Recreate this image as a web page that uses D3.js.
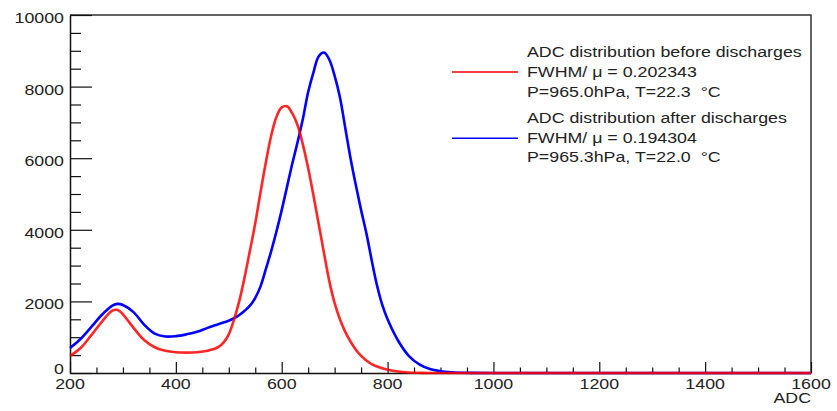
<!DOCTYPE html>
<html><head><meta charset="utf-8">
<script src="https://cdn.jsdelivr.net/npm/d3@7"></script>
<style>body{margin:0;background:#fff;} svg{display:block;} text{white-space:pre;}</style>
</head><body><svg id="c" width="837" height="411"></svg>
<script>
// ---- data ----
const adc = [200,220,240,260,280,290,300,320,340,360,380,400,420,440,460,480,490,500,510,520,530,540,550,560,570,580,590,600,610,620,630,640,650,660,670,680,690,700,710,720,730,740,750,760,770,780,790,800,820,840,860,880,900,920,940,960,1000,1100,1200,1300,1400,1500,1600];
const beforeCounts = [475,700,1050,1430,1740,1760,1640,1260,920,720,620,580,570,580,620,720,850,1080,1500,2020,2680,3420,4180,5050,5880,6620,7150,7420,7450,7250,6920,6380,5720,4960,4150,3340,2560,1950,1500,1150,880,650,480,350,250,180,130,90,40,15,5,0,0,0,0,0,0,0,0,0,0,0,0];
const afterCounts  = [700,950,1280,1620,1880,1930,1900,1700,1350,1100,1020,1030,1080,1150,1260,1360,1410,1460,1530,1620,1740,1880,2100,2420,2900,3400,3950,4550,5200,5850,6450,7100,7850,8400,8850,8950,8750,8300,7700,6850,6000,5250,4550,3900,3150,2450,1900,1500,900,480,240,110,50,20,8,3,0,0,0,0,0,0,0];
const xMajorTicks = [200,400,600,800,1000,1200,1400,1600];
const yMajorTicks = [0,2000,4000,6000,8000,10000];
const xTitle = "ADC";
const legendEntries = [
  {color:"#ff0000", lines:["ADC distribution before discharges","FWHM/ \u03bc = 0.202343","P=965.0hPa, T=22.3  \u00b0C"]},
  {color:"#0000ff", lines:["ADC distribution after discharges","FWHM/ \u03bc = 0.194304","P=965.3hPa, T=22.0  \u00b0C"]}
];

// ---- layout ----
const L=70, R=811, T=15, B=373;
const SX = 1.27; // horizontal text stretch of the reference
const font = "'Liberation Sans', Arial, Helvetica, sans-serif";
const svg = d3.select("#c");
const x = d3.scaleLinear().domain([200,1600]).range([L,R]);
const y = d3.scaleLinear().domain([0,10000]).range([B,T]);

function txt(g, X, Y, s, anchor, size){
  return g.append("text").attr("transform",`translate(${X},${Y}) scale(${SX},1)`)
    .attr("text-anchor",anchor||"start").attr("font-family",font)
    .attr("font-size",size||14).attr("fill","#222").text(s);
}

// frame top/right
svg.append("path").attr("d",`M${L},${T}H${R}V${B}`).attr("fill","none").attr("stroke","#333").attr("stroke-width",1.5);

// x axis
const xMinor = d3.range(200,1601,50).filter(v=>!xMajorTicks.includes(v));
const gx = svg.append("g").attr("transform",`translate(0,${B})`);
gx.call(d3.axisBottom(x).tickValues(xMajorTicks).tickSizeInner(-11).tickSizeOuter(0).tickFormat(""));
const gxm = svg.append("g").attr("transform",`translate(0,${B})`);
gxm.call(d3.axisBottom(x).tickValues(xMinor).tickSizeInner(-5.5).tickSizeOuter(0).tickFormat(""));
gxm.select(".domain").remove();
[gx,gxm].forEach(g=>{g.selectAll("line").attr("stroke","#111").attr("stroke-width",1.2); g.select(".domain").attr("stroke","#111").attr("stroke-width",1.5);});
xMajorTicks.forEach(v=>txt(svg, x(v), 389, String(v), "middle", 14));
txt(svg, R, 403, xTitle, "end", 14);

// y axis
const yMinor = d3.range(0,10001,500).filter(v=>!yMajorTicks.includes(v));
const gy = svg.append("g").attr("transform",`translate(${L},0)`);
gy.call(d3.axisLeft(y).tickValues(yMajorTicks).tickSizeInner(-22).tickSizeOuter(0).tickFormat(""));
const gym = svg.append("g").attr("transform",`translate(${L},0)`);
gym.call(d3.axisLeft(y).tickValues(yMinor).tickSizeInner(-11).tickSizeOuter(0).tickFormat(""));
gym.select(".domain").remove();
[gy,gym].forEach(g=>{g.selectAll("line").attr("stroke","#111").attr("stroke-width",1.2); g.select(".domain").attr("stroke","#111").attr("stroke-width",1.5);});
yMajorTicks.forEach(v=>txt(svg, 64, v===0 ? y(v)+1 : y(v)+8, String(v), "end", 14));

// curves (drawn over the axes, as in the reference)
const line = d3.line().x((d)=>x(d[0])).y((d)=>y(Math.max(0,d[1]))).curve(d3.curveCatmullRom.alpha(0.5));
const gC = svg.append("g");
gC.append("path").datum(adc.map((v,i)=>[v,afterCounts[i]])).attr("d",line)
  .attr("fill","none").attr("stroke","#0000ff").attr("stroke-width",2.6);
gC.append("path").datum(adc.map((v,i)=>[v,beforeCounts[i]])).attr("d",line)
  .attr("fill","none").attr("stroke","#ff0000").attr("stroke-opacity",0.85).attr("stroke-width",2.6);

// legend
const legTextX = 527, legY0 = [57,122.7], lineGap = 19.8, legLineY=[72,138.3];
legendEntries.forEach((e,k)=>{
  svg.append("line").attr("x1",452).attr("x2",518).attr("y1",legLineY[k]).attr("y2",legLineY[k])
    .attr("stroke",e.color).attr("stroke-width",1.6);
  e.lines.forEach((s,j)=>txt(svg, legTextX, legY0[k]+j*lineGap, s, "start", 14));
});
</script></body></html>
